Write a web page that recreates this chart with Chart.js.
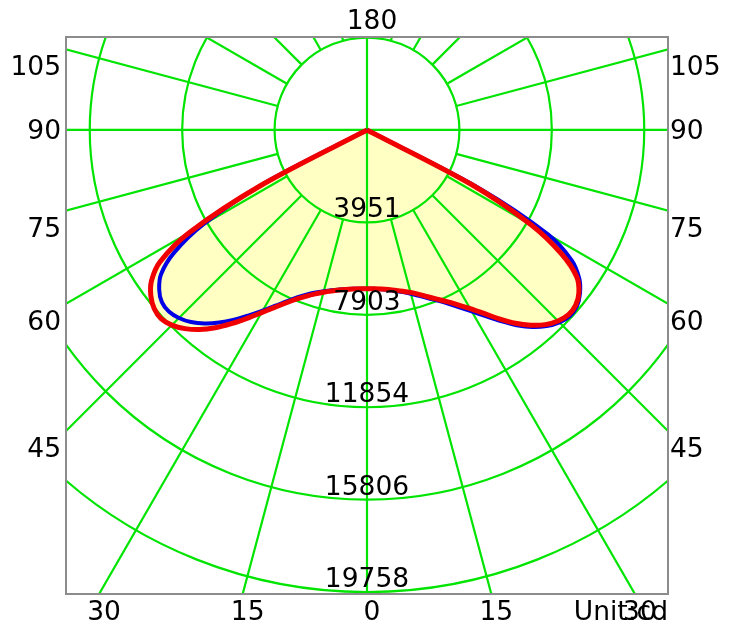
<!DOCTYPE html>
<html>
<head>
<meta charset="utf-8">
<script src="https://cdn.jsdelivr.net/npm/chart.js@4.4.1/dist/chart.umd.min.js"></script>
<style>
  html, body { margin: 0; padding: 0; background: #fff; }
  #wrap { width: 736px; height: 628px; position: relative; }
</style>
</head>
<body>
<div id="wrap"><canvas id="polar"></canvas></div>
<script>
// gamma angle from nadir (deg)
const gammas = [0, 2.5, 5, 7.5, 10, 12.5, 15, 17.5, 20, 22.5, 25, 27.5, 30, 32.5, 35, 37.5, 40, 42.5, 45,
  47.5, 50, 52.5, 55, 57.5, 60, 62.5, 65, 67.5, 70, 72.5, 75, 77.5, 80, 82.5, 85, 87.5, 90];

// intensities in cd
const c0 = [6790, 6800, 6840, 6900, 6990, 7100, 7250, 7440, 7660, 7900, 8190, 8550, 8960, 9440, 9980, 10520, 11000, 11370, 11630,
  11770, 11720, 11480, 11080, 10380, 8950, 5500, 0, 0, 0, 0, 0, 0, 0, 0, 0, 0, 0];
const c180 = [6790, 6800, 6820, 6860, 6930, 7020, 7140, 7290, 7480, 7740, 8070, 8470, 8920, 9400, 9900, 10380, 10800, 11140, 11370,
  11490, 11450, 11200, 10750, 9800, 8100, 5000, 0, 0, 0, 0, 0, 0, 0, 0, 0, 0, 0];
const c90 = [6790, 6800, 6830, 6880, 6960, 7060, 7190, 7370, 7590, 7830, 8100, 8430, 8820, 9300, 9860, 10420, 10900, 11290, 11550,
  11690, 11650, 11420, 10950, 9870, 8100, 5000, 0, 0, 0, 0, 0, 0, 0, 0, 0, 0, 0];
const c270 = [6790, 6800, 6830, 6880, 6950, 7050, 7180, 7350, 7560, 7820, 8150, 8550, 9020, 9550, 10110, 10660, 11140, 11520, 11800,
  11940, 11880, 11650, 11250, 10500, 8800, 5000, 0, 0, 0, 0, 0, 0, 0, 0, 0, 0, 0];

const ringLabels = ['3951', '7903', '11854', '15806', '19758'];
const maxRing = 19758;
const sideAngles = [105, 90, 75, 60, 45];
const bottomAngles = [-30, -15, 0, 15, 30];
const topAngle = 180;
const unitText = 'Unit:cd';

const GRID = 'rgb(0, 228, 0)';
const FONT = '26.5px "DejaVu Sans"';

function toXY(g, I) {
  const r = g * Math.PI / 180;
  return { x: I * Math.sin(r), y: -I * Math.cos(r) };
}

// left half (C180 / C270) then right half (C0 / C90)
function buildCurve(left, right) {
  const pts = [];
  for (let i = gammas.length - 1; i >= 0; i--) pts.push(toXY(-gammas[i], left[i]));
  for (let i = 1; i < gammas.length; i++) pts.push(toXY(gammas[i], right[i]));
  return pts;
}

const polarGrid = {
  id: 'polarGrid',
  beforeDatasetsDraw(chart) {
    const { ctx, chartArea: a, scales: { x, y } } = chart;
    const cx = x.getPixelForValue(0), cy = y.getPixelForValue(0);
    const k = (x.getPixelForValue(1000) - cx) / 1000;
    const ring = maxRing / ringLabels.length;
    ctx.save();
    ctx.beginPath();
    ctx.rect(a.left, a.top, a.width, a.height);
    ctx.clip();
    ctx.strokeStyle = GRID;
    ctx.lineWidth = 2.2;
    for (let i = 1; i <= ringLabels.length; i++) {
      ctx.beginPath();
      ctx.arc(cx, cy, ring * i * k, 0, Math.PI * 2);
      ctx.stroke();
    }
    for (let g = 0; g < 360; g += 15) {
      const rad = g * Math.PI / 180;
      const r0 = g % 90 === 0 ? 0 : ring * k;
      const r1 = 1200;
      ctx.beginPath();
      ctx.moveTo(cx + r0 * Math.sin(rad), cy + r0 * Math.cos(rad));
      ctx.lineTo(cx + r1 * Math.sin(rad), cy + r1 * Math.cos(rad));
      ctx.stroke();
    }
    ctx.restore();
  },
  afterDatasetsDraw(chart) {
    const { ctx, chartArea: a, scales: { x, y } } = chart;
    const cx = x.getPixelForValue(0), cy = y.getPixelForValue(0);
    const k = (x.getPixelForValue(1000) - cx) / 1000;
    const ring = maxRing / ringLabels.length;
    ctx.save();
    // frame
    ctx.strokeStyle = '#8c8c8c';
    ctx.lineWidth = 2;
    ctx.strokeRect(a.left, a.top, a.width, a.height);

    ctx.fillStyle = '#000';
    ctx.font = FONT;
    // ring values
    ctx.textAlign = 'center';
    ctx.textBaseline = 'alphabetic';
    ringLabels.forEach((t, i) => {
      ctx.fillText(t, cx, cy + ring * (i + 1) * k - 5);
    });
    // side angle labels
    ctx.textBaseline = 'middle';
    sideAngles.forEach(g => {
      const rad = g * Math.PI / 180;
      const py = cy + (cx - a.left) / Math.sin(rad) * Math.cos(rad);
      const off = g === 90 ? 2 : 19;
      ctx.textAlign = 'right';
      ctx.fillText(String(g), a.left - 5, py + off);
      ctx.textAlign = 'left';
      ctx.fillText(String(g), a.right + 2, py + off);
    });
    // bottom angle labels
    ctx.textAlign = 'center';
    bottomAngles.forEach(g => {
      const px = cx + (a.bottom - cy) * Math.tan(g * Math.PI / 180);
      ctx.fillText(String(Math.abs(g)), px + 5, a.bottom + 19);
    });
    ctx.fillText(String(topAngle), cx + 5, a.top - 15);
    ctx.textAlign = 'right';
    ctx.fillText(unitText, a.right, a.bottom + 19);
    ctx.restore();
  }
};

new Chart(document.getElementById('polar'), {
  type: 'scatter',
  data: {
    datasets: [
      {
        label: 'C90-C270',
        data: buildCurve(c270, c90),
        showLine: true,
        borderColor: 'rgb(240, 0, 0)',
        borderWidth: 5,
        backgroundColor: 'rgb(255, 255, 196)',
        fill: 'shape',
        pointRadius: 0,
        tension: 0.3
      },
      {
        label: 'C0-C180',
        data: buildCurve(c180, c0),
        showLine: true,
        borderColor: 'rgb(0, 0, 230)',
        borderWidth: 4,
        backgroundColor: 'rgb(255, 255, 196)',
        fill: 'shape',
        pointRadius: 0,
        tension: 0.3
      }
    ]
  },
  options: {
    responsive: true,
    maintainAspectRatio: false,
    animation: false,
    layout: { padding: { left: 66, right: 68, top: 37, bottom: 34 } },
    scales: {
      x: { type: 'linear', min: -12870, max: 12870, display: false },
      y: { type: 'linear', min: -19840, max: 3975, display: false }
    },
    plugins: {
      legend: { display: false },
      tooltip: { enabled: false },
      filler: { drawTime: 'beforeDraw' }
    }
  },
  plugins: [polarGrid]
});
</script>
</body>
</html>
